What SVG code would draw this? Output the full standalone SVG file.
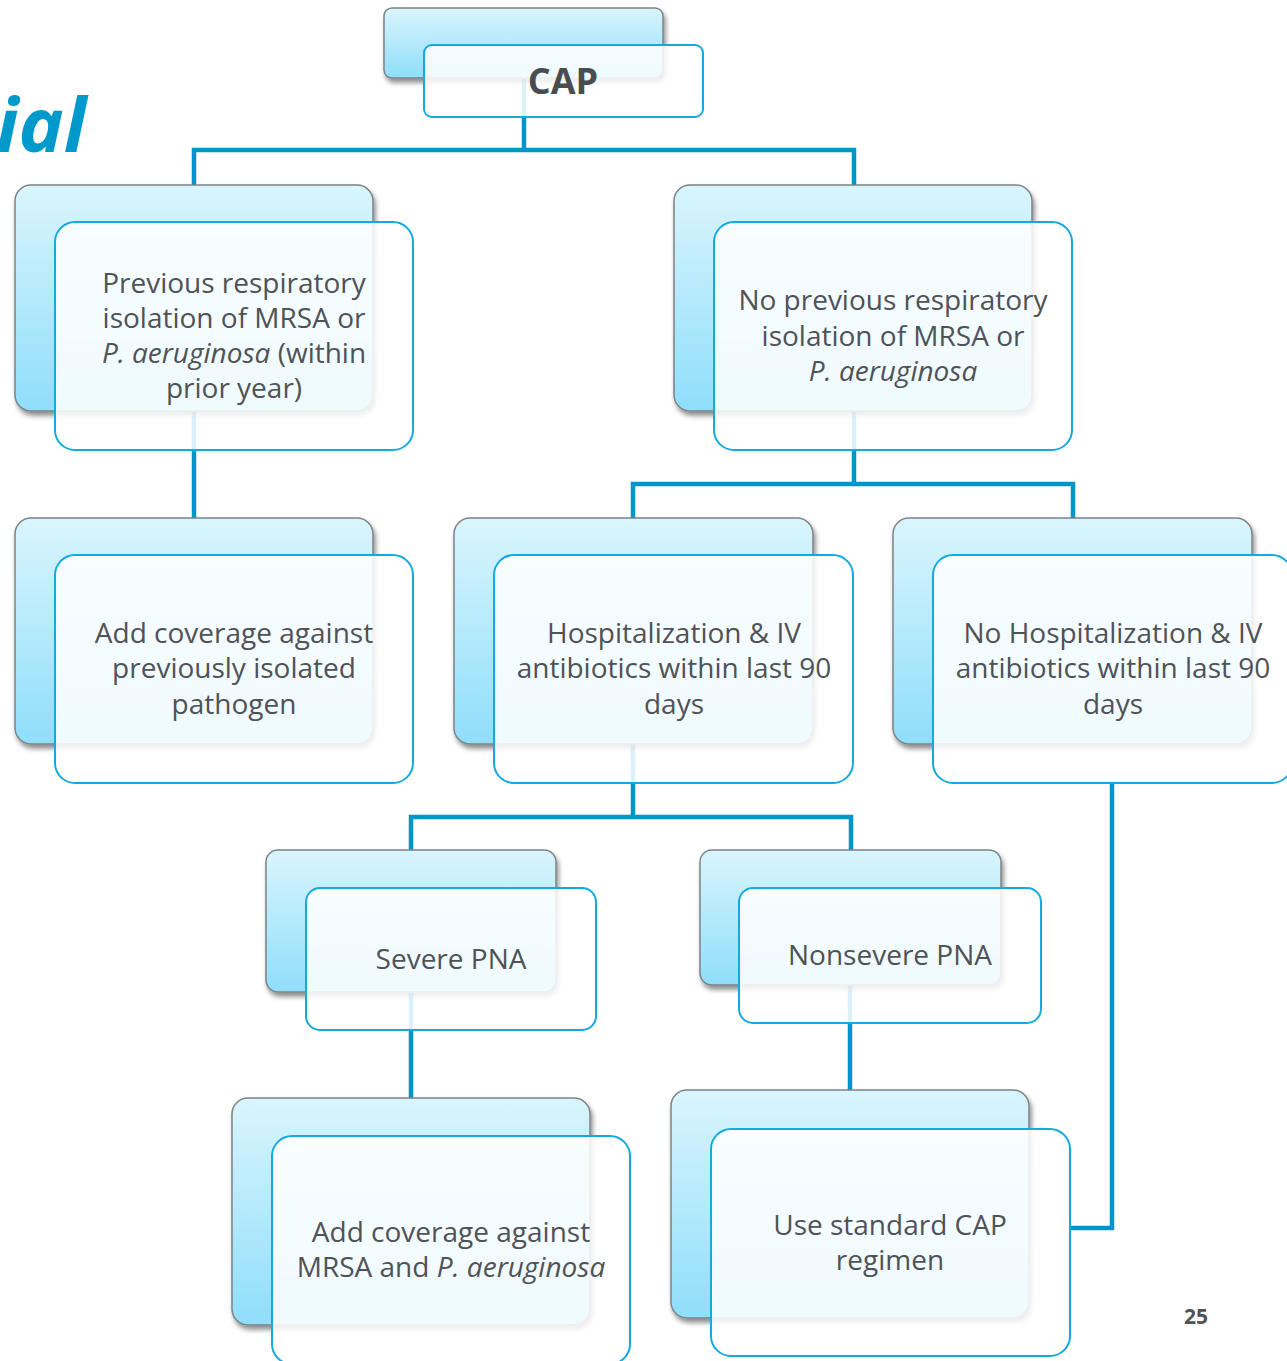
<svg xmlns="http://www.w3.org/2000/svg" width="1287" height="1361" viewBox="0 0 1287 1361">
<defs>
<linearGradient id="g" x1="0" y1="0" x2="0" y2="1">
<stop offset="0" stop-color="#daf5fd"/>
<stop offset="1" stop-color="#8fdefb"/>
</linearGradient>
<filter id="sh" x="-10%" y="-10%" width="120%" height="130%">
<feGaussianBlur in="SourceAlpha" stdDeviation="2.5"/>
<feOffset dx="2" dy="4" result="b"/>
<feComponentTransfer><feFuncA type="linear" slope="0.45"/></feComponentTransfer>
<feMerge><feMergeNode/><feMergeNode in="SourceGraphic"/></feMerge>
</filter>
</defs>
<style>
.back{fill:url(#g);stroke:#7d8387;stroke-width:1.5;filter:url(#sh)}
.front{fill:#ffffff;fill-opacity:0.86;stroke:#14aadf;stroke-width:2}
.t{font-family:"Open Sans","Noto Sans",sans-serif;font-size:28px;fill:#4f5256;text-anchor:middle}
.i{font-style:italic}
.c{fill:none;stroke:#0096c9;stroke-width:4.5}
</style>
<rect width="1287" height="1361" fill="#ffffff"/>
<text x="-4" y="152" font-family="Open Sans, Noto Sans, sans-serif" font-size="76" font-weight="bold" font-style="italic" fill="#0099cc">ial</text>
<g id="connectors">
<path class="c" d="M524 78V150M194 185V150H854V185"/>
<path class="c" d="M194 411V518"/>
<path class="c" d="M854 411V484M633 518V484H1073V518"/>
<path class="c" d="M633 744V817M411 850V817H851V850"/>
<path class="c" d="M411 992V1098"/>
<path class="c" d="M850 985V1090"/>
<path class="c" d="M1112 783V1228H1070"/>
</g>
<g id="n-cap">
<rect class="back" x="384" y="8" width="279" height="70" rx="8"/>
<rect class="front" x="424" y="45" width="279" height="72" rx="8"/>
<text x="563" y="94" font-family="Open Sans, Noto Sans, sans-serif" font-size="36" font-weight="bold" fill="#4a4c50" text-anchor="middle">CAP</text>
</g>
<g id="n-prev">
<rect class="back" x="15" y="185" width="358" height="226" rx="16"/>
<rect class="front" x="55" y="222" width="358" height="228" rx="20"/>
<text class="t" x="234" y="293">Previous respiratory</text>
<text class="t" x="234" y="328">isolation of MRSA or</text>
<text class="t" x="234" y="363"><tspan class="i">P. aeruginosa</tspan> (within</text>
<text class="t" x="234" y="398">prior year)</text>
</g>
<g id="n-noprev">
<rect class="back" x="674" y="185" width="358" height="226" rx="16"/>
<rect class="front" x="714" y="222" width="358" height="228" rx="20"/>
<text class="t" x="893" y="310">No previous respiratory</text>
<text class="t" x="893" y="346">isolation of MRSA or</text>
<text class="t i" x="893" y="381">P. aeruginosa</text>
</g>
<g id="n-addcov">
<rect class="back" x="15" y="518" width="358" height="226" rx="16"/>
<rect class="front" x="55" y="555" width="358" height="228" rx="20"/>
<text class="t" x="234" y="643">Add coverage against</text>
<text class="t" x="234" y="678">previously isolated</text>
<text class="t" x="234" y="714">pathogen</text>
</g>
<g id="n-hosp">
<rect class="back" x="454" y="518" width="359" height="226" rx="16"/>
<rect class="front" x="494" y="555" width="359" height="228" rx="20"/>
<text class="t" x="674" y="643">Hospitalization &amp; IV</text>
<text class="t" x="674" y="678">antibiotics within last 90</text>
<text class="t" x="674" y="714">days</text>
</g>
<g id="n-nohosp">
<rect class="back" x="893" y="518" width="359" height="226" rx="16"/>
<rect class="front" x="933" y="555" width="359" height="228" rx="20"/>
<text class="t" x="1113" y="643">No Hospitalization &amp; IV</text>
<text class="t" x="1113" y="678">antibiotics within last 90</text>
<text class="t" x="1113" y="714">days</text>
</g>
<g id="n-severe">
<rect class="back" x="266" y="850" width="290" height="142" rx="12"/>
<rect class="front" x="306" y="888" width="290" height="142" rx="14"/>
<text class="t" x="451" y="969">Severe PNA</text>
</g>
<g id="n-nonsevere">
<rect class="back" x="700" y="850" width="301" height="135" rx="12"/>
<rect class="front" x="739" y="888" width="302" height="135" rx="14"/>
<text class="t" x="890" y="965">Nonsevere PNA</text>
</g>
<g id="n-mrsa">
<rect class="back" x="232" y="1098" width="358" height="227" rx="16"/>
<rect class="front" x="272" y="1136" width="358" height="228" rx="20"/>
<text class="t" x="451" y="1242">Add coverage against</text>
<text class="t" x="451" y="1277">MRSA and <tspan class="i">P. aeruginosa</tspan></text>
</g>
<g id="n-standard">
<rect class="back" x="671" y="1090" width="358" height="228" rx="16"/>
<rect class="front" x="711" y="1129" width="359" height="227" rx="20"/>
<text class="t" x="890" y="1235">Use standard CAP</text>
<text class="t" x="890" y="1270">regimen</text>
</g>
<text x="1196" y="1324" font-family="Open Sans, Noto Sans, sans-serif" font-size="21" font-weight="bold" fill="#4f5256" text-anchor="middle">25</text>
</svg>
